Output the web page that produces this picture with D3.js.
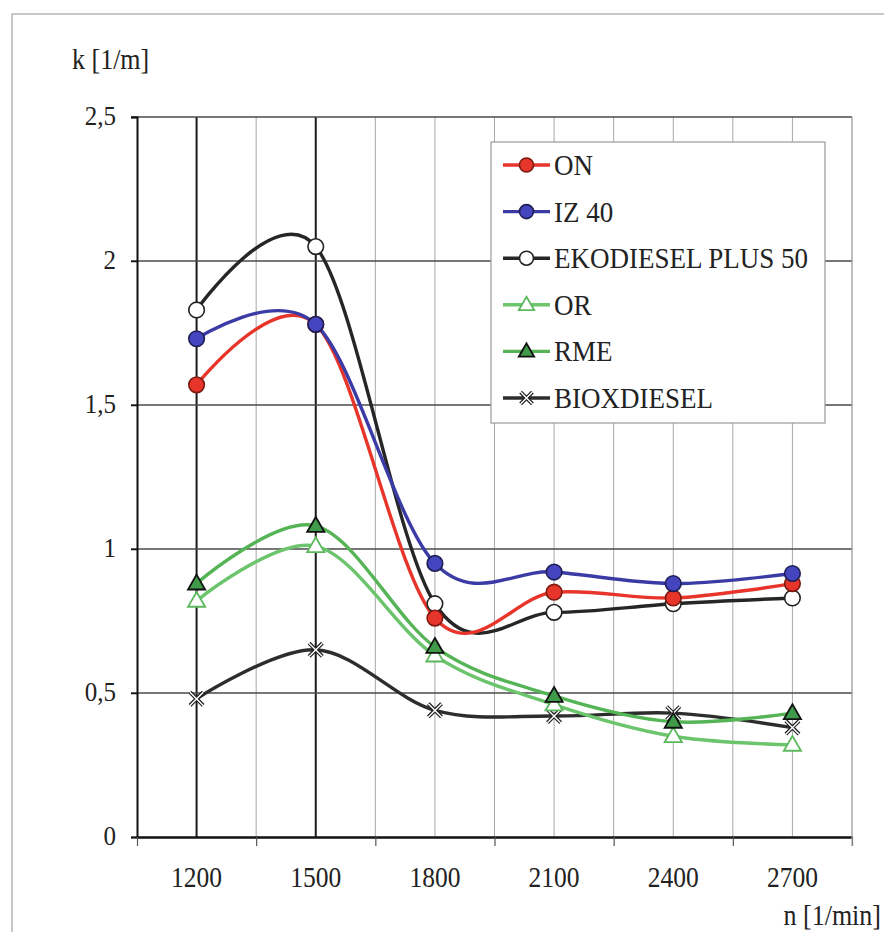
<!DOCTYPE html>
<html><head><meta charset="utf-8">
<script src="https://cdn.jsdelivr.net/npm/d3@7"></script>
<style>
body{margin:0;background:#fff;}
svg text{font-family:"Liberation Serif","DejaVu Serif",serif;fill:#222;}
</style></head>
<body>
<svg id="c" width="884" height="932"></svg>
<script>
const categories = [1200, 1500, 1800, 2100, 2400, 2700];
const ON        = [1.57, 1.78, 0.76, 0.85, 0.83, 0.88];
const IZ40      = [1.73, 1.78, 0.95, 0.92, 0.88, 0.915];
const EKO       = [1.83, 2.05, 0.81, 0.78, 0.81, 0.83];
const OR        = [0.82, 1.01, 0.63, 0.46, 0.35, 0.32];
const RME       = [0.88, 1.08, 0.66, 0.49, 0.40, 0.43];
const BIOX      = [0.48, 0.65, 0.44, 0.42, 0.43, 0.38];
const seriesNames = ["ON", "IZ 40", "EKODIESEL PLUS 50", "OR", "RME", "BIOXDIESEL"];
const yTicks = [0, 0.5, 1, 1.5, 2, 2.5];
const yTickLabels = ["0", "0,5", "1", "1,5", "2", "2,5"];
const xTickLabels = ["1200", "1500", "1800", "2100", "2400", "2700"];

const series = [
  {name: seriesNames[0], values: ON,   line: "#e8352b", marker: "circle",   fill: "#e8352b", mstroke: "#7a1a10"},
  {name: seriesNames[1], values: IZ40, line: "#3b3ba6", marker: "circle",   fill: "#4545c0", mstroke: "#1e1e55"},
  {name: seriesNames[2], values: EKO,  line: "#262626", marker: "circle",   fill: "#ffffff", mstroke: "#222"},
  {name: seriesNames[3], values: OR,   line: "#6cc46c", marker: "triangle", fill: "#ffffff", mstroke: "#5cb85c"},
  {name: seriesNames[4], values: RME,  line: "#55b455", marker: "triangle", fill: "#3f9a4a", mstroke: "#111"},
  {name: seriesNames[5], values: BIOX, line: "#2d2d2d", marker: "x",        fill: "#ffffff", mstroke: "#222"}
];

const FONT = "'Liberation Serif', 'DejaVu Serif', serif";
const SY = 1.13; // vertical stretch of the scanned text
const svg = d3.select("#c");
const L = 137, R = 852, T = 117, B = 837;
const x = d3.scaleLinear().domain([1050, 2850]).range([L, R]);
const y = d3.scaleLinear().domain([0, 2.5]).range([B, T]);

function label(parent, tx, ty, str, size, anchor) {
  return parent.append("text")
    .attr("transform", `translate(${tx},${ty}) scale(1,${SY})`)
    .attr("text-anchor", anchor || "start")
    .style("font-family", FONT).attr("font-size", size).text(str);
}

// outer frame
svg.append("rect").attr("x", 12).attr("y", 14).attr("width", 900).attr("height", 950)
  .attr("fill", "none").attr("stroke", "#b5b5b5").attr("stroke-width", 1.5);

// vertical gridlines
const vgrid = d3.range(1200, 2851, 150);
svg.append("g").selectAll("line").data(vgrid).join("line")
  .attr("x1", d => x(d)).attr("x2", d => x(d)).attr("y1", T).attr("y2", B)
  .attr("stroke", d => (d === 1200 || d === 1500) ? "#1a1a1a" : "#a8a8a8")
  .attr("stroke-width", d => (d === 1200 || d === 1500) ? 2 : 1);

// horizontal gridlines
svg.append("g").selectAll("line").data(yTicks.filter(d => d > 0)).join("line")
  .attr("x1", L - 6).attr("x2", R).attr("y1", d => y(d)).attr("y2", d => y(d))
  .attr("stroke", "#4a4a4a").attr("stroke-width", 1.4);

// y axis
const gy = svg.append("g").attr("transform", `translate(${L},0)`)
  .call(d3.axisLeft(y).tickValues(yTicks).tickFormat("").tickSize(6));
gy.select(".domain").attr("stroke", "#111").attr("stroke-width", 2);
gy.selectAll(".tick line").attr("stroke", "#111").attr("stroke-width", 1.5);
const gyl = svg.append("g");
yTicks.forEach((v, i) => label(gyl, 116, y(v) + 8, yTickLabels[i], 25, "end"));

// x axis: ticks between categories, labels at categories
const xTicksPos = d3.range(1050, 2851, 300);
const gx = svg.append("g").attr("transform", `translate(0,${B})`)
  .call(d3.axisBottom(x).tickValues(xTicksPos).tickFormat("").tickSize(9).tickSizeOuter(0));
gx.select(".domain").attr("stroke", "#111").attr("stroke-width", 2.5);
gx.selectAll(".tick line").attr("stroke", "#555").attr("stroke-width", 1.2);
const gxl = svg.append("g");
categories.forEach((c, i) => label(gxl, x(c), 887, xTickLabels[i], 25.5, "middle"));

// right border of plot
svg.append("line").attr("x1", R).attr("x2", R).attr("y1", T).attr("y2", B + 9)
  .attr("stroke", "#a8a8a8").attr("stroke-width", 1);

// axis titles
label(svg, 72, 69, "k [1/m]", 26);
label(svg, 881, 925, "n [1/min]", 26, "end");

// lines
const line = d3.line().x((d, i) => x(categories[i])).y(d => y(d)).curve(d3.curveCardinal.tension(0));
const lineOrder = [5, 3, 4, 2, 0, 1];
lineOrder.forEach(si => {
  const s = series[si];
  svg.append("path").datum(s.values).attr("d", line)
    .attr("fill", "none").attr("stroke", s.line).attr("stroke-width", 3.4)
    .attr("stroke-linejoin", "round");
});

function drawMarker(g, s, cx, cy, size) {
  if (s.marker === "circle") {
    g.append("circle").attr("cx", cx).attr("cy", cy).attr("r", size)
      .attr("fill", s.fill).attr("stroke", s.mstroke).attr("stroke-width", 1.6);
  } else if (s.marker === "triangle") {
    const h = size * 1.9, w = size * 2.2;
    g.append("path").attr("d", `M${cx},${cy - h * 0.6}L${cx + w / 2},${cy + h * 0.4}L${cx - w / 2},${cy + h * 0.4}Z`)
      .attr("fill", s.fill).attr("stroke", s.mstroke).attr("stroke-width", 1.8).attr("stroke-linejoin", "miter");
  } else {
    const a = size * 0.85;
    const p = `M${cx - a},${cy - a}L${cx + a},${cy + a}M${cx + a},${cy - a}L${cx - a},${cy + a}`;
    g.append("path").attr("d", p).attr("stroke", "#222").attr("stroke-width", 3.8);
    g.append("path").attr("d", p).attr("stroke", "#fff").attr("stroke-width", 1.4);
  }
}

// markers
lineOrder.forEach(si => {
  const s = series[si];
  const g = svg.append("g");
  s.values.forEach((v, i) => drawMarker(g, s, x(categories[i]), y(v), 7.8));
});

// legend
const lg = svg.append("g");
lg.append("rect").attr("x", 491).attr("y", 142).attr("width", 334).attr("height", 281)
  .attr("fill", "#fff").attr("stroke", "#9a9a9a").attr("stroke-width", 1.2);
series.forEach((s, i) => {
  const cy = 165 + i * 46.6;
  lg.append("line").attr("x1", 503).attr("x2", 550).attr("y1", cy).attr("y2", cy)
    .attr("stroke", s.line).attr("stroke-width", 3.4);
  drawMarker(lg, s, 526.5, cy, 7);
  label(lg, 554, cy + 10, s.name, 27);
});
</script>
</body></html>
